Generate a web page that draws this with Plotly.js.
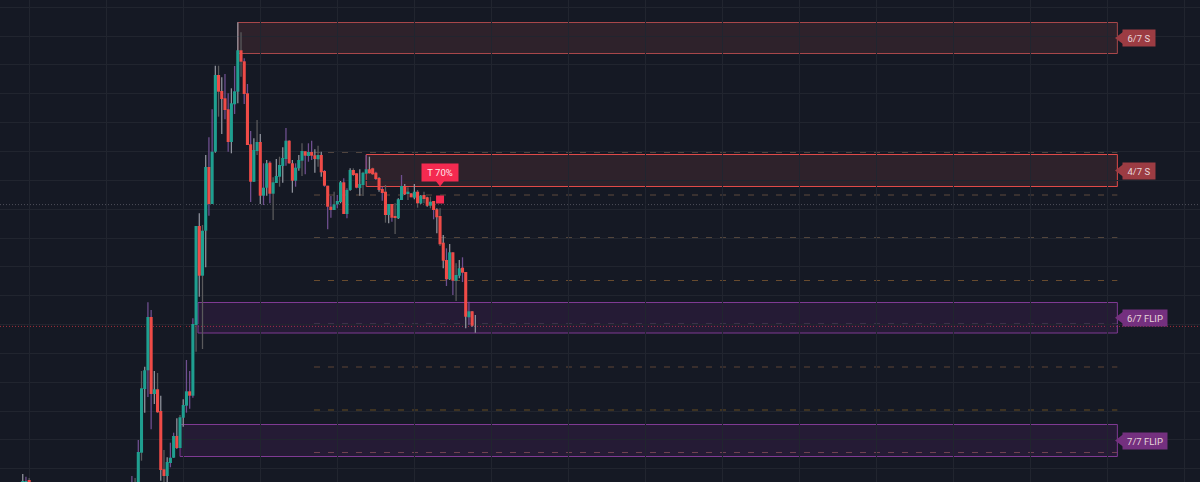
<!DOCTYPE html>
<html><head><meta charset="utf-8">
<script src="https://cdn.plot.ly/plotly-3.0.1.min.js"></script>
<style>html,body{margin:0;padding:0;background:#151924;overflow:hidden}#c{width:1200px;height:482px}</style>
</head><body><div id="c"></div>
<script>
// candle index (24 bars per vertical grid cell); vertical scale is read top-down
const barIndex=[-36,-35,-34,-2,-1].concat(Array.from({length:106},(_,i)=>i));
const bodyTop=[481,481,480,490,490,
452,388.3,370.3,317,317,389.3,389.3,411,469.3,462,
457.7,436,436,417.3,405,391.3,391.3,324,226,226,
230.7,167,167,151.7,75,75,91,98.3,109.3,103.3,
91.3,50.3,50.3,61.3,93.3,144.3,150,142,142,187.7,
163.3,162.7,182.3,176,165,158,140.7,140.7,163.3,167.7,
160,151,151.3,152,152,155.3,155,155,171,185.7,
206.7,204.3,201,182.3,182.3,190,170,170,173.3,184,
172.7,169.3,169.3,168.3,172.7,178,189,191.7,204,204,
216,199.3,186,186,191.7,193.3,191.7,191.7,195.7,195,
197.3,201.7,201,209.3,216,242.7,260,252.3,252.3,275,
268.3,267.7,272,311.3,311.3,325];
const bodyBottom=[490,490,490,490,490,
490,452.7,389,370.3,394,394,412.3,470,476,476,
463,457.7,448,448,417.7,405.7,395.7,395.7,325,275.7,
275.7,230.7,204,204,151.7,91.7,99,110,142,142,
104.3,91.7,61.7,94,145,181.7,181.7,151,195.7,195.7,
187.7,193.7,193.7,183,176.7,166,159,163.3,180.7,180.7,
168.3,160.7,155.7,156,155.7,159,159.3,172.3,185.7,206.7,
210,210,204.3,202,214,214,190,175,187.7,188,
185,173.7,173.3,174.3,179,190,193,215,215,217.7,
218,218.3,200,194.3,194,197.3,197.7,203.3,203.3,199,
205.7,205.7,210,217.3,244.3,260.7,279.3,279.3,280.7,280.7,
275.7,272.7,316.7,317.3,325.7,325];
const wickTop=[474,476.7,478,476,478,
440,371,366.7,302.3,310,371,373,395.7,450,457.3,
442.7,432.7,418.3,415,399.3,360,371,318.3,226,213.3,
225,155,137.3,109.3,65.7,65.7,77.3,74,93.3,88.3,
66,22.3,32.3,58.3,84,131,138.3,120,134,163.3,
160,161.3,177.3,159,156.7,147.3,128,140,160,163.3,
155,143.3,151.3,143.3,140.7,149.3,145.7,151.7,170,185.7,
196,191.7,195,181,178.3,188.3,168.3,168.3,173.3,169.3,
171.7,155,156.7,167.7,171.7,177.3,186.7,185,204,204,
203.3,198.3,175,184,187.3,193,184,190,195,191.7,
196.7,196.7,201,208.3,208.3,235,248.3,244,252.3,263.3,
260,257.3,272,301.7,311.3,315];
const wickBottom=[490,490,490,490,490,
490,460.7,412.7,397,429.3,404,413,480.7,490,490,
467.3,458,448.7,448,426.7,412.7,408.7,397.7,351.7,296.7,
349,267.3,215.7,204,152.7,116.7,134,119.3,151.7,153.3,
114,103.3,76.7,104,145,202,181.7,155,204,205,
195.7,203.3,220,183,186.7,182.7,165.7,164,192.7,186.7,
170.7,176,174.3,161.7,160,172.7,166.7,176.7,186.7,229.3,
217.7,210,208.3,203.3,214,218.3,190.7,176,188.3,195.7,
196,173.3,173.3,175,180,191.7,200.7,222.7,223.3,221.7,
234,219,200,195,200,197.3,199.3,207.7,204,203.3,
206.7,208.3,219.3,233.3,246,268.3,286,280,295,301,
278.3,282,328.3,325,326.7,332.7];
const direction=("u u d u u "+
"u u u u d u d d d u "+"u u d u u u d u u d "+"u u d u u d d d d u "+"u u d d d d u u d u "+
"u d u u u u u d d u "+"u u d u d d u d d d "+"d u u u d u u d d u "+"u u d d d d d d u d "+
"d u u d u d u d u d "+"d u d d d d d u d u "+"u d d u d u").trim().split(/\s+/);
const wickTone=("w p g p g "+
"p g w p p w g w g w "+"p p w g w p p p g w "+"g w p p w g w p p w "+"p w g p p p w g w p "+
"w p g w g w p g w p "+"w g p p p w g w p p "+"p g p w p p w g p w "+"g p w g p w p g w p "+
"g w p w g g w g w g "+"w g p w g w p w p g "+"w p w p w w").trim().split(/\s+/);

// zones: left bar, top, bottom
const zoneNames=["6/7 S","4/7 S","6/7 FLIP","7/7 FLIP"];
const zoneStart=[31,71,18.6,13];
const zoneEnd=305;
const zoneTop=[22.5,154.5,302.5,424.5];
const zoneBottom=[53.5,186.5,333,456.5];
const zoneKind=["s","s2","f","f"];
const dashLevels=[152.5,195,237.5,280.5,324,367,410,452.5];
const dashColors=["#4f443f","#5e4a3c","#52453c","#684b2e","#4e4a54","#5f4434","#684f20","#6c4544"];
const priceLevels=[204.6,326.4];
const priceLineColors=["#4d4f5a","#a22f3b"];
const signalBar=94;const signalLevel=199.5;

const X0=138.3,STEP=3.21;const toBar=p=>(p-X0)/STEP;
const teal="#1f9f90",red="#ef4b47";
const tones={p:"#6f4f90",g:"#5a5a5c",w:"#8f929c"};

const wick={type:"bar",x:barIndex,base:wickTop,y:wickTop.map((t,i)=>wickBottom[i]-t),width:0.4,
  marker:{color:wickTone.map(t=>tones[t]),line:{width:0}},hoverinfo:"skip",showlegend:false};
const body={type:"bar",x:barIndex,base:bodyTop,y:bodyTop.map((t,i)=>bodyBottom[i]-t),width:0.96,
  marker:{color:direction.map(d=>d==="u"?teal:red),line:{width:0}},hoverinfo:"skip",showlegend:false};

const labelFill=["#9c3c43","#9c3c43","#74307f","#74307f"];
const pointers={type:"scatter",mode:"markers",x:zoneNames.map(()=>toBar(1120.5)),
  y:zoneTop.map((t,i)=>(t+zoneBottom[i])/2),
  marker:{symbol:"triangle-left",size:11,color:labelFill},hoverinfo:"skip",showlegend:false};
const signal={type:"scatter",mode:"markers",x:[signalBar],y:[signalLevel],
  marker:{symbol:"square",size:8,color:"#f42a50"},hoverinfo:"skip",showlegend:false};
const signalTip={type:"scatter",mode:"markers",x:[signalBar],y:[182],
  marker:{symbol:"triangle-down",size:9,color:"#f42a50"},hoverinfo:"skip",showlegend:false};

const zoneStyle={s:{line:"#a8474a",fill:"rgba(232,105,100,0.12)"},s2:{line:"#e04a48",fill:"rgba(232,105,100,0.12)"},
  f:{line:"#7f3a93",fill:"rgba(150,50,170,0.13)"}};
const shapes=[];
dashLevels.forEach((y,i)=>shapes.push({type:"line",layer:"below",xref:"x",yref:"y",x0:toBar(314),x1:zoneEnd,y0:y,y1:y,
  line:{color:dashColors[i],width:1,dash:"6px,8px"}}));
zoneNames.forEach((n,i)=>{const st=zoneStyle[zoneKind[i]];
  shapes.push({type:"rect",layer:"below",xref:"x",yref:"y",x0:zoneStart[i],x1:zoneEnd,y0:zoneTop[i],y1:zoneBottom[i],
    fillcolor:st.fill,line:{color:st.line,width:1}});});
priceLevels.forEach((y,i)=>shapes.push({type:"line",layer:"below",xref:"paper",yref:"y",x0:0,x1:1,y0:y,y1:y,
  line:{color:priceLineColors[i],width:1,dash:"1px,2px"}}));

const labelFont={family:"Roboto, sans-serif",size:9.5,color:"#e6d6da"};
const annotations=zoneNames.map((n,i)=>({xref:"x",yref:"y",x:toBar(1122),y:(zoneTop[i]+zoneBottom[i])/2,
  text:n,showarrow:false,xanchor:"left",yanchor:"middle",align:"center",
  width:n.length>5?42:30,height:14,bgcolor:labelFill[i],borderpad:1,font:labelFont}));
annotations.push({xref:"x",yref:"y",x:signalBar,y:172,text:"T 70%",showarrow:false,xanchor:"center",yanchor:"middle",
  align:"center",width:34,height:15,bgcolor:"#f42a50",borderpad:1,font:{family:"Roboto, sans-serif",size:9.5,color:"#ffe6ea"}});

const axisBase={showticklabels:false,ticks:"",zeroline:false,showline:false,showgrid:true,gridcolor:"#21252f",gridwidth:1,fixedrange:true};
Plotly.newPlot("c",[wick,body,signal,signalTip,pointers],{
  width:1200,height:482,margin:{l:0,r:0,t:0,b:0,pad:0},
  paper_bgcolor:"#151924",plot_bgcolor:"#151924",barmode:"overlay",showlegend:false,
  xaxis:Object.assign({},axisBase,{range:[toBar(0),toBar(1200)],tick0:-34,dtick:24}),
  yaxis:Object.assign({},axisBase,{range:[482,0],tick0:7.2,dtick:28.85}),
  shapes,annotations
},{displayModeBar:false,staticPlot:true});
</script></body></html>
